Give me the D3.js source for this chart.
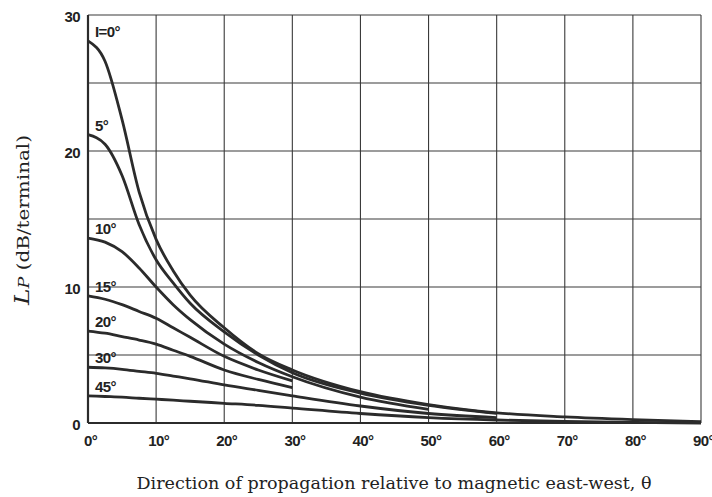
<!DOCTYPE html>
<html>
<head>
<meta charset="utf-8">
<script src="https://cdn.jsdelivr.net/npm/d3@7/dist/d3.min.js"></script>
<style>
  html, body { margin: 0; padding: 0; background: #ffffff; }
  svg { display: block; }
  .tick-lab { font-family: "Liberation Sans", Arial, sans-serif; font-weight: bold; font-size: 15px; letter-spacing: -0.6px; fill: #222; }
  .curve-lab { font-family: "Liberation Sans", Arial, sans-serif; font-weight: bold; font-size: 15px; letter-spacing: -0.6px; fill: #222; }
  .title { font-family: "DejaVu Serif", "Liberation Serif", serif; font-size: 16px; fill: #222; }
</style>
</head>
<body>
<svg id="chart" width="712" height="497"></svg>
<script>
// ---- data ----
const theta = [0, 2.5, 5, 7.5, 10, 12.5, 15, 20, 25, 30, 40, 50, 60, 70, 80, 90];
const curveLabels = ["I=0°", "5°", "10°", "15°", "20°", "30°", "45°"];
const lpI0  = [28.1, 26.6, 22.3, 17.0, 13.5, 11.2, 9.4, 7.0, 5.1, 3.9, 2.3, 1.35, 0.75, 0.45, 0.25, 0.1];
const lpI5  = [21.2, 20.5, 18.2, 14.6, 12.0, 10.3, 8.8, 6.7, 5.0, 3.7, 2.2, 1.3, 0.7, null, null, null];
const lpI10 = [13.6, 13.3, 12.6, 11.4, 10.0, 8.7, 7.6, 5.8, 4.45, 3.4, 1.9, 1.0, null, null, null, null];
const lpI15 = [9.35, 9.1, 8.7, 8.2, 7.7, 7.0, 6.3, 4.9, 3.9, 3.1, null, null, null, null, null, null];
const lpI20 = [6.76, 6.6, 6.35, 6.1, 5.8, 5.35, 4.9, 3.9, 3.2, 2.6, null, null, null, null, null, null];
const lpI30 = [4.1, 4.05, 3.95, 3.8, 3.65, 3.45, 3.25, 2.8, 2.4, 2.0, 1.25, 0.7, 0.4, null, null, null];
const lpI45 = [2.0, 1.95, 1.9, 1.82, 1.75, 1.68, 1.6, 1.45, 1.3, 1.1, 0.7, 0.4, 0.22, 0.12, 0.05, 0.0];
const xTicks = [0, 10, 20, 30, 40, 50, 60, 70, 80, 90];
const yTicks = [0, 10, 20, 30];
const yGrid = [0, 5, 10, 15, 20, 25, 30];
const xTitle = "Direction of propagation relative to magnetic east-west, θ";
const yTitleMain = "L";
const yTitleSub = "P";
const yTitleRest = " (dB/terminal)";

const seriesValues = [lpI0, lpI5, lpI10, lpI15, lpI20, lpI30, lpI45];

// ---- layout ----
const svg = d3.select("#chart");
const x = d3.scaleLinear().domain([0, 90]).range([88, 701]);
const y = d3.scaleLinear().domain([0, 30]).range([423, 15]);
const ink = "#2b2b2b";

// grid
const g = svg.append("g");
g.selectAll("line.v").data(xTicks).enter().append("line")
  .attr("x1", d => x(d)).attr("x2", d => x(d))
  .attr("y1", y(0)).attr("y2", y(30))
  .attr("stroke", "#3a3a3a").attr("stroke-width", 1.1);
g.selectAll("line.h").data(yGrid).enter().append("line")
  .attr("x1", x(0)).attr("x2", x(90))
  .attr("y1", d => y(d)).attr("y2", d => y(d))
  .attr("stroke", "#3a3a3a").attr("stroke-width", 1.1);

// axes frame (left & bottom heavier)
svg.append("line").attr("x1", x(0)).attr("x2", x(0)).attr("y1", y(0)).attr("y2", y(30))
  .attr("stroke", ink).attr("stroke-width", 2.2);
svg.append("line").attr("x1", x(0)).attr("x2", x(90)).attr("y1", y(0)).attr("y2", y(0))
  .attr("stroke", ink).attr("stroke-width", 2.2);

// axes labels via d3 axes
const xAxis = d3.axisBottom(x).tickValues(xTicks).tickSize(0).tickPadding(12)
  .tickFormat(d => d + "°");
const xa = svg.append("g").attr("transform", `translate(0,${y(0)})`).call(xAxis);
xa.select(".domain").remove();
xa.selectAll("text").attr("class", "tick-lab").attr("dx", 2).attr("font-family", null).attr("font-size", null);

const yAxis = d3.axisLeft(y).tickValues(yTicks).tickSize(0).tickPadding(8);
const ya = svg.append("g").attr("transform", `translate(${x(0)},0)`).call(yAxis);
ya.select(".domain").remove();
ya.selectAll("text").attr("class", "tick-lab").attr("dy", "0.45em").attr("font-family", null).attr("font-size", null);

// curves
const line = d3.line()
  .defined(d => d[1] !== null)
  .x(d => x(d[0])).y(d => y(d[1]))
  .curve(d3.curveMonotoneX);
seriesValues.forEach((vals, i) => {
  const pts = theta.map((t, j) => [t, vals[j]]).filter(p => p[1] !== null);
  svg.append("path").datum(pts)
    .attr("d", line)
    .attr("fill", "none").attr("stroke", ink).attr("stroke-width", 2.8)
    .attr("stroke-linecap", "butt").attr("stroke-linejoin", "round");
  svg.append("text").attr("class", "curve-lab")
    .attr("x", x(0) + 7).attr("y", y(vals[0]) - 4)
    .text(curveLabels[i]);
});

// titles
svg.append("text").attr("class", "title")
  .attr("x", 394).attr("y", 489).attr("text-anchor", "middle")
  .attr("textLength", 515).attr("lengthAdjust", "spacingAndGlyphs")
  .text(xTitle);

const yt = svg.append("text").attr("class", "title")
  .attr("transform", "translate(29,220) rotate(-90)")
  .attr("text-anchor", "middle")
  .attr("font-size", "18px")
  .attr("textLength", 170).attr("lengthAdjust", "spacingAndGlyphs");
yt.append("tspan").attr("font-style", "italic").attr("font-size", "20px").text(yTitleMain);
yt.append("tspan").attr("font-style", "italic").attr("font-size", "14px").text(yTitleSub);
yt.append("tspan").text(yTitleRest);
</script>
</body>
</html>
